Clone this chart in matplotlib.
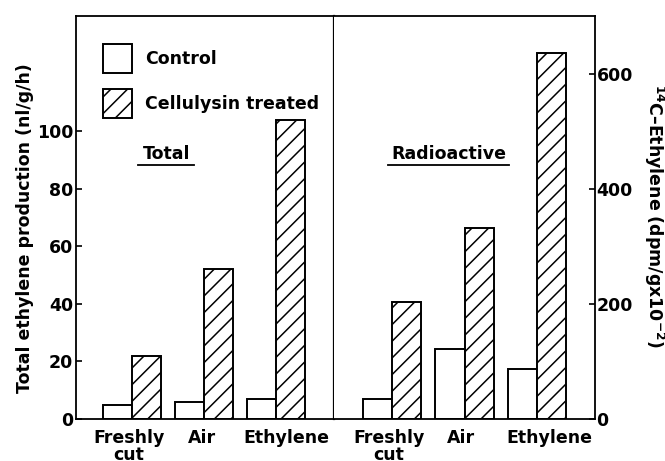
import matplotlib.pyplot as plt
import numpy as np

plt.rcParams['font.family'] = ['DejaVu Sans']
plt.rcParams['font.weight'] = 'bold'
plt.rcParams['mathtext.fontset'] = 'custom'
plt.rcParams['mathtext.rm'] = 'DejaVu Sans:bold'
plt.rcParams['mathtext.default'] = 'rm'
plt.rcParams['hatch.linewidth'] = 1.1

groups = ['Freshly\ncut', 'Air', 'Ethylene']
series = ['Control', 'Cellulysin treated']

# total ethylene (nl/g/h)
total_control = [5, 6, 7]
total_treated = [22, 52, 104]

# 14C-ethylene (dpm/g x 10^-2)
radio_control = [35, 122, 87]
radio_treated = [203, 332, 636]

fs = 12.5
lw = 1.4
x = np.arange(len(groups))
w = 0.403

fig = plt.figure(figsize=(6.65, 4.61), dpi=100)
ax1 = fig.add_axes([76 / 665, 1 - 419 / 461, 258 / 665, 403 / 461])
ax2 = fig.add_axes([334 / 665, 1 - 419 / 461, 261 / 665, 403 / 461])


def bars(ax, ctrl, trt):
    b1 = ax.bar(x - w / 2, ctrl, w, color='white', edgecolor='black',
                linewidth=lw, label=series[0])
    b2 = ax.bar(x + w / 2, trt, w, color='white', edgecolor='black',
                linewidth=lw, hatch='//', label=series[1])
    return b1, b2


h1, h2 = bars(ax1, total_control, total_treated)
bars(ax2, radio_control, radio_treated)

ax1.set_xlim(-0.778, 2.806)
ax1.set_ylim(0, 140)
ax1.set_yticks([0, 20, 40, 60, 80, 100])
ax1.tick_params(axis='y', direction='in', length=4, width=1.2, pad=2,
                labelsize=fs)
ax1.set_xticks(x + np.array([-0.04, -0.03, 0.15]))
ax1.set_xticklabels(groups)

ax2.set_xlim(-0.806, 2.806)
ax2.set_ylim(0, 700)
ax2.yaxis.tick_right()
ax2.set_yticks([0, 200, 400, 600])
ax2.tick_params(axis='y', direction='in', length=4, width=1.2, pad=1,
                labelsize=fs)
ax2.set_xticks(x + np.array([-0.05, -0.05, 0.17]))
ax2.set_xticklabels(groups)
ax2.spines['left'].set_visible(False)

for ax in (ax1, ax2):
    ax.tick_params(axis='x', length=0, pad=7, labelsize=fs)
    for lab in ax.get_xticklabels():
        lab.set_linespacing(0.95)
    for s in ax.spines.values():
        s.set_linewidth(1.3)
ax1.spines['right'].set_linewidth(1.6)

ax1.legend(handles=[h1, h2], loc='upper left',
           bbox_to_anchor=(103 / 665, 1 - 44 / 461),
           bbox_transform=fig.transFigure, frameon=False, fontsize=fs,
           handlelength=1.65, handleheight=2.2, handletextpad=0.75,
           labelspacing=0.9, borderpad=0, borderaxespad=0)

ax1.text(0.353, 0.658, 'Total', transform=ax1.transAxes, fontsize=fs,
         ha='center', va='center')
ax1.plot([0.240, 0.457], [0.630, 0.630], color='black', lw=1.3,
         transform=ax1.transAxes, clip_on=False)
ax2.text(0.44, 0.658, 'Radioactive', transform=ax2.transAxes, fontsize=fs,
         ha='center', va='center')
ax2.plot([0.207, 0.670], [0.630, 0.630], color='black', lw=1.3,
         transform=ax2.transAxes, clip_on=False)

fig.text(25 / 665, 1 - 228 / 461, 'Total ethylene production (nl/g/h)',
         rotation=90, ha='center', va='center', fontsize=fs)
fig.text(654 / 665, 1 - 216 / 461, '$^{14}$C\u2013Ethylene (dpm/gx10$^{-2}$)',
         rotation=-90, ha='center', va='center', fontsize=fs)

fig.savefig('out.png', dpi=100)
